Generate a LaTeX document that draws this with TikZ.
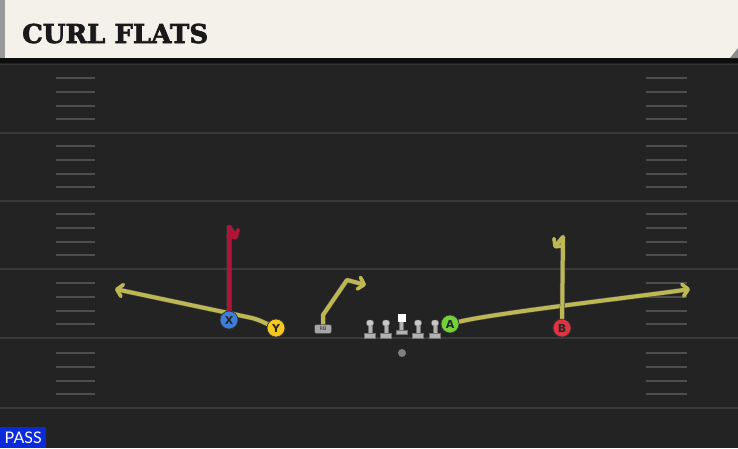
\documentclass[tikz,border=0pt]{standalone}
\usepackage{fontspec}
\usetikzlibrary{arrows.meta,positioning}
\newfontfamily\titlefont[FakeBold=2.5]{DejaVu Serif}
\newfontfamily\tagfont{Lato}
\newfontfamily\markfont{DejaVu Sans}
\definecolor{turf}{HTML}{232323}
\definecolor{chalk}{HTML}{3A3A3A}
\definecolor{banner}{HTML}{F4F1EA}
\definecolor{routeyellow}{HTML}{BDB852}
\definecolor{routered}{HTML}{B01238}
\definecolor{xblue}{HTML}{3D7EDB}
\definecolor{yyellow}{HTML}{F5C81E}
\definecolor{agreen}{HTML}{72D23A}
\definecolor{bred}{HTML}{E0333F}
\definecolor{passblue}{HTML}{0B2AD9}
\pgfdeclarelayer{turflayer}
\pgfdeclarelayer{routelayer}
\pgfsetlayers{turflayer,routelayer,main}
\tikzset{
	yardline/.style={chalk,line width=2pt},
	hashline/.style={chalk!90!white,line width=1.8pt},
	player/.style={circle,draw=black!80,line width=0.7pt,minimum size=18pt,inner sep=0pt,text=black!85,font=\markfont\bfseries\fontsize{11}{11}\selectfont},
	route/.style={routeyellow,line width=4pt,line join=round,line cap=round,preaction={draw=black!70,line width=5pt,line join=round,line cap=round},-{Straight Barb[length=5.5pt,width=12pt,line width=3.6pt,round]}},
	redroute/.style={route,routered},
	lineman/.pic={
		\fill[black!30,draw=black!55,line width=0.4pt] (-5.5,0) rectangle (5.5,-4.5);
		\fill[black!30,draw=black!55,line width=0.4pt] (-2,-4.5) rectangle (2,-12.5);
		\fill[black!22,draw=black!55,line width=0.4pt,rounded corners=2.5pt] (-3.5,-12) rectangle (3.5,-18);
	}
}
\begin{document}
\begin{tikzpicture}[x=1pt,y=-1pt]
	\useasboundingbox (0,0) rectangle (738,448);
	\begin{pgfonlayer}{turflayer}
		\fill[turf] (0,58) rectangle (738,448);
		\fill[black!95] (0,58) rectangle (738,63);
		\draw[black!80,line width=1pt] (0,64) -- (738,64);
		\foreach \y in {133,201,269,338,408} {
			\draw[yardline] (0,\y) -- (738,\y);
			\foreach \k in {1,...,4} {
				\draw[hashline] (56,\y-13.7*\k) -- (95,\y-13.7*\k);
				\draw[hashline] (646,\y-13.7*\k) -- (687,\y-13.7*\k);
			}
		}
		\fill[banner] (0,0) rectangle (738,58);
		\fill[black!40] (5,0) rectangle (0,58);
		\fill[black!45] (730,58) -- (738,58) -- (738,48) -- cycle;
	\end{pgfonlayer}
	\node[anchor=base west,inner sep=0pt,font=\titlefont\bfseries\fontsize{26}{26}\selectfont,text=black!90] (title) at (22,43) {CURL FLATS};
	\node[fill=passblue,anchor=south west,minimum width=46pt,minimum height=21pt,inner sep=0pt,text=white,font=\tagfont\fontsize{16}{16}\selectfont] (play) at (0,448) {PASS};
	\node[player,fill=xblue] (X) at (229,320) {X};
	\node[player,fill=yyellow] (Y) at (276,328) {Y};
	\node[player,fill=agreen] (A) at (450,324) {A};
	\node[player,fill=bred] (B) at (562,328) {B};
	\node[fill=black!35,draw=black!75,line width=0.5pt,rounded corners=2pt,minimum width=17pt,minimum height=9pt,inner sep=0pt,font=\markfont\fontsize{5}{5}\selectfont,text=black!80] (RB) at (323,329) {RB};
	\foreach \x in {370,386,418,435}
		\pic at (\x,338) {lineman};
	\fill[black!30,draw=black!55,line width=0.4pt] (396,334) rectangle (407,330);
	\fill[black!30,draw=black!55,line width=0.4pt] (399.5,330) rectangle (403.5,321);
	\node[fill=white,minimum size=8pt,inner sep=0pt] (C) at (401.5,317.5) {};
	\node[circle,fill=black!50,minimum size=8pt,inner sep=0pt] (QB) at (402,353) {};
	\coordinate (xtop) at (229,227);
	\coordinate (xhook) at (237,239);
	\coordinate (ybend) at (252,318);
	\coordinate (yend) at (115,289);
	\coordinate (rb1) at (323,315);
	\coordinate (rb2) at (347,280);
	\coordinate (rb3) at (366,285);
	\coordinate (aend) at (690,289);
	\coordinate (btop) at (563,237);
	\coordinate (bhook) at (554,248);
	\begin{pgfonlayer}{routelayer}
		\draw[route] (Y) to[out=155,in=-15] (ybend) -- (yend);
		\draw[redroute] (X) -- (xtop) -- (xhook);
		\draw[route] (RB) -- (rb1) -- (rb2) -- (rb3);
		\draw[route] (A) to[out=14,in=189,looseness=0.4] (aend);
		\draw[route] (B) -- (btop) -- (bhook);
	\end{pgfonlayer}
\end{tikzpicture}
\end{document}
